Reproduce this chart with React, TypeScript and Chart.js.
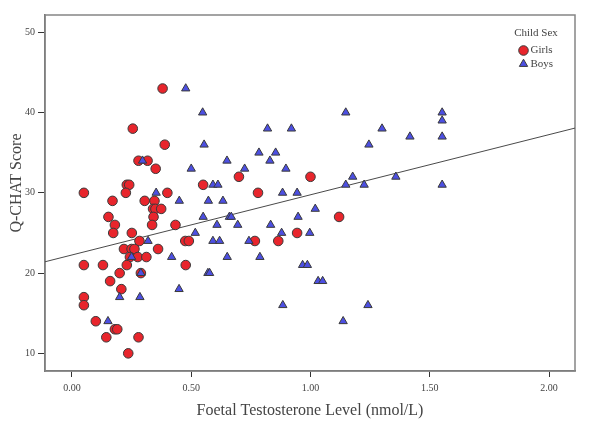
import React, { useEffect, useRef } from 'react';
import { Chart, registerables } from 'chart.js';

Chart.register(...registerables);

// ---- data ----
const girlsX = [0.38, 0.255, 0.389, 0.279, 0.317, 0.351, 0.70, 1.00, 0.23, 0.24, 0.55, 0.05, 0.226, 0.40, 0.78, 0.17, 0.305, 0.346, 0.34, 0.35, 0.374, 0.153, 0.342, 1.12, 0.18, 0.336, 0.434, 0.173, 0.251, 0.944, 0.283, 0.475, 0.49, 0.767, 0.865, 0.218, 0.25, 0.262, 0.361, 0.243, 0.276, 0.312, 0.05, 0.13, 0.23, 0.477, 0.2, 0.289, 0.16, 0.207, 0.05, 0.05, 0.10, 0.18, 0.19, 0.144, 0.279, 0.236];
const girlsY = [43, 38, 36, 34, 34, 33, 32, 32, 31, 31, 31, 30, 30, 30, 30, 29, 29, 29, 28, 28, 28, 27, 27, 27, 26, 26, 26, 25, 25, 25, 24, 24, 24, 24, 24, 23, 23, 23, 23, 22, 22, 22, 21, 21, 21, 21, 20, 20, 19, 18, 17, 16, 14, 13, 13, 12, 12, 10];

const boysX = [0.477, 0.548, 1.148, 1.552, 1.552, 0.82, 0.92, 1.30, 1.417, 1.552, 0.554, 1.245, 0.784, 0.854, 0.296, 0.65, 0.83, 0.50, 0.724, 0.897, 1.177, 1.358, 0.591, 0.612, 1.148, 1.225, 1.552, 0.353, 0.883, 0.944, 0.45, 0.572, 0.633, 1.02, 0.55, 0.66, 0.668, 0.948, 0.608, 0.695, 0.833, 0.517, 0.879, 0.997, 0.319, 0.591, 0.619, 0.742, 0.25, 0.418, 0.651, 0.788, 0.967, 0.987, 0.289, 0.57, 0.577, 1.032, 1.051, 0.449, 0.20, 0.285, 0.884, 1.241, 0.151, 1.137];
const boysY = [43, 40, 40, 40, 39, 38, 38, 38, 37, 37, 36, 36, 35, 35, 34, 34, 34, 33, 33, 33, 32, 32, 31, 31, 31, 31, 31, 30, 30, 30, 29, 29, 29, 28, 27, 27, 27, 27, 26, 26, 26, 25, 25, 25, 24, 24, 24, 24, 22, 22, 22, 22, 21, 21, 20, 20, 20, 19, 19, 18, 17, 17, 16, 16, 14, 14];

// regression (fit) line end points
const fitX = [-0.113, 2.109];
const fitY = [21.41, 38.07];

const xTicks = [0, 0.5, 1, 1.5, 2];
const yTicks = [10, 20, 30, 40, 50];
const seriesNames = ['Girls', 'Boys'];
const legendTitle = 'Child Sex';
const xTitle = 'Foetal Testosterone Level (nmol/L)';
const yTitle = 'Q-CHAT Score';

const FONT = '"Liberation Serif", "Times New Roman", serif';
const RED = '#e8252c';
const BLUE = '#4c4fe2';
const EDGE = '#3a3a3a';
const TEXT = '#444';

export default function App() {
  const ref = useRef<HTMLCanvasElement>(null);

  useEffect(() => {
    document.body.style.margin = '0';
    const canvas = ref.current;
    if (!canvas) return;

    const framePlugin = {
      id: 'framePlugin',
      beforeDatasetsDraw(chart: any) {
        const { ctx, chartArea: a } = chart;
        ctx.save();
        ctx.strokeStyle = '#858585';
        ctx.lineWidth = 1.5;
        ctx.strokeRect(a.left, a.top, a.right - a.left, a.bottom - a.top);
        ctx.restore();
      },
      afterDraw(chart: any) {
        const { ctx, chartArea: a } = chart;
        const cx = a.right - 51.5;
        ctx.save();
        ctx.fillStyle = TEXT;
        ctx.font = `11px ${FONT}`;
        ctx.textAlign = 'center';
        ctx.textBaseline = 'middle';
        ctx.fillText(legendTitle, a.right - 39, a.top + 18.5);
        // girls marker
        ctx.beginPath();
        ctx.arc(cx, a.top + 35.5, 4.8, 0, Math.PI * 2);
        ctx.fillStyle = RED;
        ctx.fill();
        ctx.strokeStyle = EDGE;
        ctx.lineWidth = 1;
        ctx.stroke();
        // boys marker
        const r = 4.8;
        const ty = a.top + 49;
        ctx.beginPath();
        ctx.moveTo(cx, ty - r);
        ctx.lineTo(cx + r * 0.866, ty + r * 0.5);
        ctx.lineTo(cx - r * 0.866, ty + r * 0.5);
        ctx.closePath();
        ctx.fillStyle = BLUE;
        ctx.fill();
        ctx.strokeStyle = EDGE;
        ctx.stroke();
        ctx.fillStyle = TEXT;
        ctx.textAlign = 'left';
        ctx.fillText(seriesNames[0], cx + 7, a.top + 35.5);
        ctx.fillText(seriesNames[1], cx + 7, a.top + 49);
        ctx.restore();
      },
    };

    const chart = new Chart(canvas, {
      type: 'scatter',
      data: {
        datasets: [
          {
            label: 'Fit',
            type: 'line',
            data: fitX.map((x, i) => ({ x, y: fitY[i] })),
            borderColor: '#4a4a4a',
            borderWidth: 1,
            pointRadius: 0,
            fill: false,
            order: 3,
          } as any,
          {
            label: seriesNames[0],
            data: girlsX.map((x, i) => ({ x, y: girlsY[i] })),
            pointStyle: 'circle',
            pointRadius: 4.8,
            backgroundColor: RED,
            borderColor: EDGE,
            borderWidth: 1,
            order: 2,
          },
          {
            label: seriesNames[1],
            data: boysX.map((x, i) => ({ x, y: boysY[i] })),
            pointStyle: 'triangle',
            pointRadius: 4.8,
            backgroundColor: BLUE,
            borderColor: EDGE,
            borderWidth: 1,
            order: 1,
          },
        ],
      },
      options: {
        animation: false,
        responsive: false,
        layout: { padding: { top: 15, right: 25, left: 0, bottom: 0 } },
        plugins: {
          legend: { display: false },
          tooltip: { enabled: false },
        },
        scales: {
          x: {
            type: 'linear',
            min: -0.113,
            max: 2.109,
            afterBuildTicks: (axis: any) => {
              axis.ticks = xTicks.map((v) => ({ value: v }));
            },
            afterFit: (s: any) => {
              s.height = 58;
            },
            ticks: {
              callback: (v: any) => Number(v).toFixed(2),
              font: { family: FONT, size: 10 },
              color: TEXT,
              padding: 5,
              maxRotation: 0,
            },
            grid: { drawOnChartArea: false, drawTicks: true, tickLength: 6, color: '#333' },
            border: { display: true, color: '#6a6a6a', width: 1.5 },
            title: {
              display: true,
              text: xTitle,
              font: { family: FONT, size: 16 },
              color: TEXT,
              padding: { top: 4, bottom: 9 },
            },
          },
          y: {
            type: 'linear',
            min: 7.8,
            max: 52.16,
            afterBuildTicks: (axis: any) => {
              axis.ticks = yTicks.map((v) => ({ value: v }));
            },
            afterFit: (s: any) => {
              s.width = 45;
            },
            ticks: {
              font: { family: FONT, size: 10 },
              color: TEXT,
              padding: 3,
            },
            grid: { drawOnChartArea: false, drawTicks: true, tickLength: 7, color: '#333' },
            border: { display: true, color: '#6a6a6a', width: 1.5 },
            title: {
              display: true,
              text: '     ' + yTitle,
              font: { family: FONT, size: 16 },
              color: TEXT,
              padding: { top: 7, bottom: 4 },
            },
          },
        },
      },
      plugins: [framePlugin],
    });

    return () => chart.destroy();
  }, []);

  return (
    <div style={{ width: 600, height: 429 }}>
      <canvas ref={ref} width={600} height={429} />
    </div>
  );
}
